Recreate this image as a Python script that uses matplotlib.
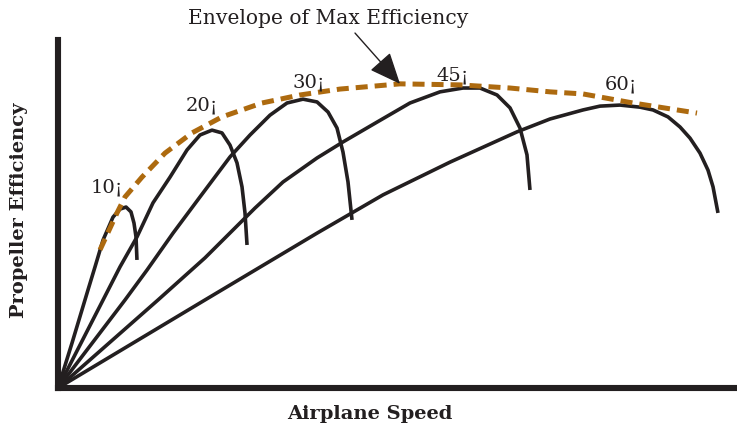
import matplotlib
matplotlib.use('Agg')
import matplotlib.pyplot as plt

# Propeller efficiency vs airplane speed for several blade pitch angles
pitch_labels = ['10¡', '20¡', '30¡', '45¡', '60¡']

speed_10 = [0, 2.06, 4.42, 5.45, 6.63, 8.10, 9.13, 10.02, 10.75, 11.19, 11.49, 11.63]
eff_10 = [0, 0.129, 0.282, 0.348, 0.425, 0.491, 0.514, 0.520, 0.506, 0.474, 0.434, 0.368]

speed_20 = [0, 9.13, 11.63, 13.99, 16.50, 19.00, 20.91, 22.68, 24.15, 25.33, 26.36,
            27.10, 27.54, 27.84]
eff_20 = [0, 0.348, 0.434, 0.532, 0.606, 0.684, 0.727, 0.741, 0.733, 0.698, 0.647,
          0.578, 0.503, 0.411]

speed_30 = [0, 9.87, 13.11, 16.94, 20.91, 25.33, 28.28, 31.22, 33.73, 36.08, 38.15,
            39.77, 41.09, 41.97, 42.71, 43.30]
eff_30 = [0, 0.253, 0.339, 0.445, 0.549, 0.664, 0.727, 0.784, 0.819, 0.830, 0.822,
          0.793, 0.747, 0.678, 0.592, 0.483]

speed_45 = [0, 14.73, 21.65, 29.01, 33.14, 38.15, 41.97, 46.98, 51.84, 56.26, 59.65,
            62.15, 64.66, 66.57, 68.04, 69.07, 69.51]
eff_45 = [0, 0.253, 0.374, 0.517, 0.592, 0.661, 0.707, 0.764, 0.819, 0.851, 0.862,
          0.862, 0.842, 0.805, 0.747, 0.670, 0.569]

speed_60 = [0, 21.65, 38.15, 47.87, 57.73, 67.60, 72.46, 77.32, 79.82, 82.77, 85.71,
            87.63, 89.84, 91.61, 93.08, 94.55, 95.73, 96.47, 97.20]
eff_60 = [0, 0.253, 0.445, 0.555, 0.649, 0.736, 0.773, 0.799, 0.810, 0.813, 0.807,
          0.799, 0.779, 0.750, 0.718, 0.675, 0.626, 0.578, 0.503]

# envelope through the peak of each pitch curve
env_speed = [6.19, 8.69, 9.87, 12.37, 15.76, 19.73, 24.15, 30.04, 35.64, 41.53,
             50.37, 59.20, 66.57, 72.46, 77.32, 84.68, 94.11]
env_eff = [0.397, 0.503, 0.549, 0.606, 0.675, 0.733, 0.779, 0.819, 0.842, 0.859,
           0.874, 0.871, 0.862, 0.851, 0.845, 0.819, 0.790]

# where each pitch label sits
label_speed = [7.2, 21.2, 36.97, 58.17, 82.92]
label_eff = [0.575, 0.813, 0.879, 0.899, 0.871]

ink = '#231f20'
brown = '#ad6a0f'
serif = ['DejaVu Serif']

fig = plt.figure(figsize=(7.37, 4.29), dpi=100)
ax = fig.add_axes([58 / 737, 41 / 429, 679 / 737, 348 / 429])

curves = [(speed_10, eff_10), (speed_20, eff_20), (speed_30, eff_30),
          (speed_45, eff_45), (speed_60, eff_60)]
for s, e in curves:
    ax.plot(s, e, color=ink, lw=2.6, solid_capstyle='butt', solid_joinstyle='round')

ax.plot(env_speed, env_eff, color=brown, lw=3.6, dashes=(2.4, 1.4),
        dash_capstyle='butt', zorder=3)

for lbl, x, y in zip(pitch_labels, label_speed, label_eff):
    ax.text(x, y, lbl, ha='center', va='center', fontsize=14, color=ink,
            family=serif)

ax.text(39.76, 1.063, 'Envelope of Max Efficiency', ha='center', va='center',
        fontsize=14.6, color=ink, family=serif, clip_on=False)
ax.annotate('', xy=(50.37, 0.874), xytext=(43.74, 1.020),
            arrowprops=dict(arrowstyle='-|>,head_length=1.4,head_width=0.6',
                            color=ink, lw=1.0, shrinkA=0, shrinkB=0,
                            mutation_scale=14),
            annotation_clip=False)

ax.set_xlim(0, 100)
ax.set_ylim(0, 1)
ax.set_xticks([])
ax.set_yticks([])
for side in ['top', 'right']:
    ax.spines[side].set_visible(False)
for side in ['left', 'bottom']:
    ax.spines[side].set_linewidth(4.4)
    ax.spines[side].set_color(ink)
    ax.spines[side].set_capstyle('projecting')

ax.text(0.4595, -0.075, 'Airplane Speed', transform=ax.transAxes, ha='center',
        va='center', fontsize=14, fontweight='bold', color=ink, family=serif)
ax.text(-0.057, 0.511, 'Propeller Efficiency', transform=ax.transAxes, ha='center',
        va='center', rotation=90, fontsize=14, fontweight='bold', color=ink,
        family=serif)

fig.savefig('out.png', dpi=100)
